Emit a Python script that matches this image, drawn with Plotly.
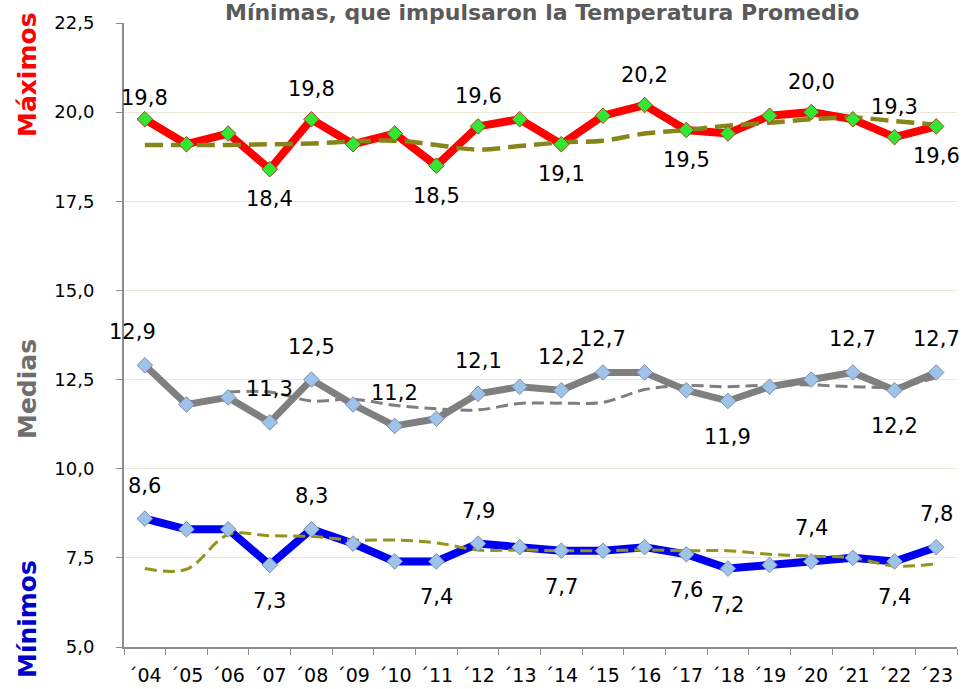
import plotly.graph_objects as go

years = ["´04", "´05", "´06", "´07", "´08", "´09", "´10", "´11", "´12", "´13",
         "´14", "´15", "´16", "´17", "´18", "´19", "´20", "´21", "´22", "´23"]

maximos = [19.8, 19.1, 19.4, 18.4, 19.8, 19.1, 19.4, 18.5, 19.6, 19.8,
           19.1, 19.9, 20.2, 19.5, 19.4, 19.9, 20.0, 19.8, 19.3, 19.6]
maximos_trend = [19.08, 19.08, 19.08, 19.1, 19.12, 19.18, 19.2, 19.08, 18.95, 19.05,
                 19.15, 19.2, 19.4, 19.5, 19.62, 19.7, 19.8, 19.85, 19.75, 19.65]

medias = [12.9, 11.8, 12.0, 11.3, 12.5, 11.8, 11.2, 11.4, 12.1, 12.3,
          12.2, 12.7, 12.7, 12.2, 11.9, 12.3, 12.5, 12.7, 12.2, 12.7]
medias_trend = [None, None, 12.15, 12.15, 11.9, 11.95, 11.78, 11.68, 11.65, 11.83,
                11.84, 11.86, 12.22, 12.33, 12.3, 12.35, 12.35, 12.3, 12.3, 12.55]

minimos = [8.6, 8.3, 8.3, 7.3, 8.3, 7.9, 7.4, 7.4, 7.9, 7.8,
           7.7, 7.7, 7.8, 7.6, 7.2, 7.3, 7.4, 7.5, 7.4, 7.8]
minimos_trend = [7.2, 7.18, 8.15, 8.12, 8.1, 8.0, 8.0, 7.92, 7.72, 7.72,
                 7.7, 7.7, 7.72, 7.7, 7.7, 7.6, 7.55, 7.5, 7.27, 7.33]

# labelled points: (index, 1 = above / -1 = below)
max_labels = [(0, 1), (3, -1), (4, 1), (7, -1), (8, 1), (10, -1), (12, 1), (13, -1),
              (16, 1), (18, 1), (19, -1)]
med_labels = [(0, 1), (3, 1), (4, 1), (6, 1), (8, 1), (10, 1), (11, 1), (14, -1),
              (17, 1), (18, -1), (19, 1)]
min_labels = [(0, 1), (3, -1), (4, 1), (7, -1), (8, 1), (10, -1), (13, -1), (14, -1),
              (16, 1), (18, -1), (19, 1)]

yticks = [5.0, 7.5, 10.0, 12.5, 15.0, 17.5, 20.0, 22.5]

FONT = "DejaVu Sans"

fig = go.Figure()

series = [
    (maximos, maximos_trend, "#FF0000", 8, "#33E633", "#B03A1A", "#85851A", 4.5, "18px,8px"),
    (medias, medias_trend, "#7F7F7F", 7, "#9DC3EA", "#7F8FA8", "#7F7F7F", 3, "12px,6px"),
    (minimos, minimos_trend, "#0000F0", 8, "#9DC3EA", "#7F8FA8", "#94941C", 3, "12px,6px"),
]

for vals, trend, lc, lw, mc, mlc, tc, tw, dash in series:
    fig.add_trace(go.Scatter(x=years, y=vals, mode="lines",
                             line=dict(color=lc, width=lw), hoverinfo="skip",
                             showlegend=False))
    fig.add_trace(go.Scatter(x=years, y=trend, mode="lines",
                             line=dict(color=tc, width=tw, dash=dash, shape="spline"),
                             hoverinfo="skip", showlegend=False))
    fig.add_trace(go.Scatter(x=years, y=vals, mode="markers",
                             marker=dict(symbol="diamond", size=12, color=mc,
                                         line=dict(color=mlc, width=1)),
                             showlegend=False))

annotations = []
def fmt(v):
    return f"{v:.1f}".replace(".", ",")

for vals, labels, up, down in [(maximos, max_labels, 30, 30),
                               (medias, med_labels, 33, 36),
                               (minimos, min_labels, 33, 36)]:
    for i, pos in labels:
        annotations.append(dict(x=years[i], y=vals[i], xref="x", yref="y",
                                text=fmt(vals[i]), showarrow=False,
                                yshift=up if pos > 0 else -down,
                                font=dict(family=FONT, size=21, color="#000000")))
# small manual nudge for the first labels
annotations[0]["yshift"] = 21
annotations[len(max_labels)]["xshift"] = -12

# rotated side labels
for text, color, ypix in [("Máximos", "#FF0000", 75), ("Medias", "#6E6E6E", 389),
                          ("Mínimos", "#0000CC", 619)]:
    annotations.append(dict(xref="paper", yref="paper",
                            x=(27 - 124) / 833, y=1 - (ypix - 23) / 624,
                            text=f"<b>{text}</b>", textangle=-90, showarrow=False,
                            xanchor="center", yanchor="middle",
                            font=dict(family=FONT, size=25, color=color)))

annotations.append(dict(xref="paper", yref="paper", x=0.502, y=1, yshift=11,
                        xanchor="center", yanchor="middle", showarrow=False,
                        text="<b>Mínimas, que impulsaron la Temperatura Promedio</b>",
                        font=dict(family=FONT, size=22, color="#5A5A5A")))

fig.update_layout(
    width=964, height=689,
    margin=dict(l=124, r=7, t=23, b=42),
    paper_bgcolor="white", plot_bgcolor="white",
    separators=",.",
    annotations=annotations,
    showlegend=False,
    xaxis=dict(type="category", range=[-0.5, 19.5], showgrid=False,
               showline=True, linecolor="#8C8C8C", linewidth=2,
               ticks="outside", tickson="boundaries", ticklen=6, tickcolor="#8C8C8C",
               automargin=False, tickangle=0, ticklabelstandoff=10,
               tickfont=dict(family=FONT, size=19, color="#000000")),
    yaxis=dict(range=[5, 22.5], tickvals=yticks, tickformat=".1f",
               showgrid=True, gridcolor="#ECE8D8", gridwidth=1,
               showline=True, linecolor="#8C8C8C", linewidth=2,
               ticks="outside", ticklen=6, tickcolor="#8C8C8C",
               ticklabelstandoff=18, automargin=False,
               zeroline=False,
               tickfont=dict(family=FONT, size=18, color="#000000")),
)

fig.write_html("out.html", config={"displayModeBar": False},
               post_script="document.body.style.margin='0';document.body.style.overflow='hidden';")
